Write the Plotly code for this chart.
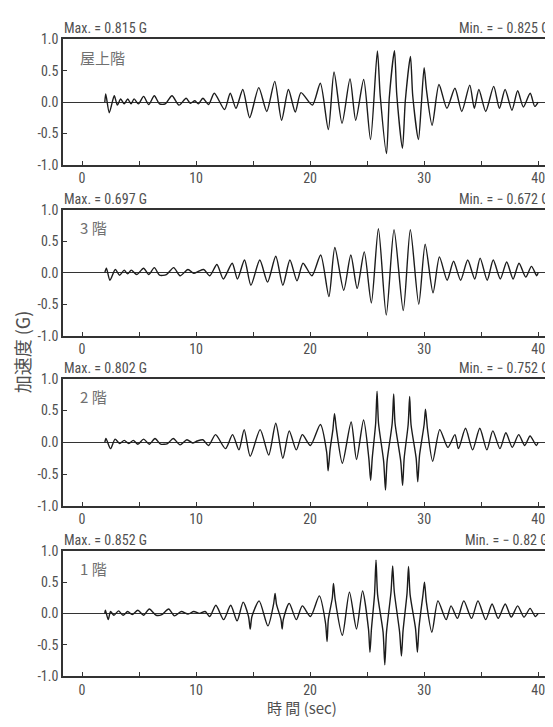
import plotly.graph_objects as go
from plotly.subplots import make_subplots

# ---------------- data ----------------
floor_labels = ["屋上階", "3 階", "2 階", "1 階"]
max_texts = ["Max. = 0.815 G", "Max. = 0.697 G", "Max. = 0.802 G", "Max. = 0.852 G"]
min_texts = ["Min. = − 0.825 G", "Min. = − 0.672 G", "Min. = − 0.752 G", "Min. = − 0.82 G"]

x_tick_vals = [0, 5, 10, 15, 20, 25, 30, 35, 40]
x_tick_text = ["0", "", "10", "", "20", "", "30", "", "40"]
y_tick_vals = [-1.0, -0.5, 0.0, 0.5, 1.0]
y_tick_text = ["-1.0", "-0.5", "0.0", "0.5", "1.0"]

# 屋上階 (roof)
t_roof = [2.0, 2.08, 2.39, 2.83, 3.1, 3.39, 3.7, 4.01, 4.3, 4.57,
          4.95, 5.4, 5.85, 6.34, 6.8, 7.3, 7.89, 8.5, 9.13, 9.5,
          9.9, 10.2, 10.6, 11.1, 11.6, 12.5, 13.0, 13.5, 14.1, 14.7,
          15.5, 16.2, 16.9, 17.5, 18.1, 18.7, 19.2, 20.2, 20.9, 21.6,
          22.1, 22.8, 23.5, 24.0, 24.7, 25.3, 25.9, 26.15, 26.7, 26.95,
          27.4, 27.6, 28.1, 28.35, 28.8, 29.0, 29.5, 29.75, 30.0, 30.2,
          30.7, 31.3, 32.0, 32.7, 33.3, 34.0, 34.4, 34.8, 35.4, 36.1,
          36.6, 37.1, 37.7, 38.2, 38.7, 39.3, 39.7, 40.0]
a_roof = [0.0, 0.13, -0.17, 0.10, -0.05, 0.05, -0.03, 0.05, -0.03, 0.05,
          -0.03, 0.09, -0.04, 0.10, -0.03, -0.03, 0.10, -0.05, 0.06, -0.02,
          0.02, -0.03, 0.06, -0.04, 0.14, -0.12, 0.14, -0.10, 0.20, -0.25,
          0.23, -0.15, 0.33, -0.29, 0.20, -0.16, 0.15, -0.05, 0.30, -0.44,
          0.48, -0.34, 0.37, -0.29, 0.36, -0.60, 0.815, 0.10, -0.825, 0.08,
          0.82, 0.12, -0.74, 0.02, 0.73, 0.10, -0.60, -0.05, 0.55, 0.20,
          -0.37, 0.28, -0.10, 0.22, -0.15, 0.27, -0.10, 0.20, -0.15, 0.25,
          -0.10, 0.20, -0.13, 0.18, -0.08, 0.14, -0.07, 0.0]

# 3階
t_3f = [2.0, 2.14, 2.45, 2.92, 3.3, 3.7, 4.0, 4.32, 4.8, 5.4,
        5.85, 6.34, 6.8, 7.4, 8.04, 8.6, 9.29, 9.8, 10.2, 10.68,
        11.2, 11.83, 12.39, 13.17, 13.63, 14.25, 14.81, 15.59, 16.27, 16.99,
        17.61, 18.23, 18.85, 19.38, 20.16, 20.93, 21.65, 22.17, 22.95, 23.57,
        24.13, 24.75, 25.37, 25.99, 26.68, 27.36, 28.17, 28.79, 29.53, 30.09,
        30.78, 31.34, 32.02, 32.58, 33.2, 33.82, 34.44, 34.91, 35.53, 36.06,
        36.68, 37.24, 37.8, 38.32, 38.91, 39.41, 39.88, 40.0]
a_3f = [0.0, 0.07, -0.12, 0.05, -0.04, 0.04, -0.02, 0.04, -0.03, 0.07,
        -0.03, 0.08, -0.04, -0.03, 0.08, -0.05, 0.05, -0.01, 0.02, 0.05,
        -0.05, 0.13, -0.10, 0.15, -0.10, 0.20, -0.20, 0.20, -0.15, 0.26,
        -0.20, 0.20, -0.13, 0.15, -0.05, 0.28, -0.38, 0.40, -0.28, 0.28,
        -0.25, 0.33, -0.48, 0.697, -0.672, 0.68, -0.60, 0.68, -0.50, 0.45,
        -0.32, 0.25, -0.12, 0.18, -0.12, 0.20, -0.10, 0.23, -0.12, 0.20,
        -0.10, 0.17, -0.10, 0.15, -0.07, 0.10, -0.05, 0.0]

# 2階
t_2f = [2.0, 2.1, 2.5, 2.9, 3.3, 3.7, 4.1, 4.5, 4.9, 5.4,
        5.9, 6.4, 6.9, 7.5, 8.0, 8.6, 9.2, 9.7, 10.1, 10.6,
        11.1, 11.71, 12.58, 13.2, 13.76, 14.22, 14.75, 15.62, 16.37, 16.99,
        17.61, 18.17, 18.79, 19.32, 20.03, 20.9, 21.45, 21.58, 21.75, 22.0,
        22.14, 22.3, 22.83, 23.6, 24.07, 24.69, 25.15, 25.31, 25.45, 25.75,
        25.87, 26.0, 26.45, 26.61, 26.75, 27.2, 27.33, 27.45, 27.95, 28.11,
        28.25, 28.6, 28.73, 28.85, 29.3, 29.44, 29.6, 30.0, 30.12, 30.3,
        30.75, 31.37, 32.08, 32.7, 33.01, 33.63, 34.25, 34.88, 35.5, 36.02,
        36.65, 37.17, 37.73, 38.29, 38.82, 39.29, 39.84, 40.0]
a_2f = [0.0, 0.06, -0.10, 0.05, -0.02, 0.03, -0.02, 0.03, -0.03, 0.05,
        -0.03, 0.06, -0.03, -0.02, 0.06, -0.04, 0.04, -0.01, 0.02, 0.04,
        -0.05, 0.12, -0.10, 0.12, -0.12, 0.20, -0.22, 0.20, -0.20, 0.30,
        -0.25, 0.18, -0.12, 0.12, -0.05, 0.28, -0.15, -0.45, -0.12, 0.20,
        0.45, 0.22, -0.33, 0.32, -0.27, 0.35, -0.25, -0.60, -0.25, 0.30,
        0.802, 0.30, -0.30, -0.752, -0.30, 0.30, 0.76, 0.30, -0.30, -0.68,
        -0.25, 0.28, 0.72, 0.28, -0.25, -0.62, -0.20, 0.28, 0.52, 0.20,
        -0.30, 0.20, -0.08, 0.12, -0.10, 0.22, -0.12, 0.22, -0.12, 0.18,
        -0.10, 0.15, -0.08, 0.12, -0.05, 0.10, -0.05, 0.0]

# 1階
t_1f = [2.0, 2.05, 2.3, 2.5, 2.8, 3.2, 3.6, 4.0, 4.4, 4.9,
        5.4, 5.9, 6.5, 7.0, 7.6, 8.1, 8.7, 9.3, 9.8, 10.3,
        10.8, 11.2, 11.74, 12.42, 13.04, 13.6, 14.13, 14.6, 14.75, 14.9,
        15.53, 16.3, 16.8, 16.93, 17.05, 17.45, 17.55, 17.65, 18.17, 18.79,
        19.32, 20.03, 20.81, 21.35, 21.49, 21.6, 21.95, 22.05, 22.2, 22.83,
        23.45, 24.07, 24.6, 25.12, 25.25, 25.38, 25.65, 25.78, 25.92, 26.4,
        26.55, 26.7, 27.1, 27.24, 27.38, 27.85, 28.01, 28.15, 28.5, 28.63,
        28.77, 29.25, 29.41, 29.55, 29.9, 30.03, 30.2, 30.68, 31.21, 31.93,
        32.36, 32.92, 33.48, 34.16, 34.72, 35.4, 35.96, 36.49, 37.11, 37.64,
        38.2, 38.76, 39.29, 39.75, 40.0]
a_1f = [0.0, 0.05, -0.10, 0.03, -0.03, 0.04, -0.03, 0.03, -0.02, 0.05,
        -0.03, 0.07, -0.03, -0.02, 0.07, -0.04, 0.03, -0.01, 0.03, 0.00,
        0.03, -0.05, 0.13, -0.10, 0.13, -0.12, 0.18, -0.05, -0.25, -0.05,
        0.20, -0.20, 0.15, 0.32, 0.15, -0.10, -0.25, -0.10, 0.16, -0.10,
        0.12, -0.05, 0.28, -0.15, -0.45, -0.10, 0.25, 0.48, 0.22, -0.35,
        0.34, -0.25, 0.36, -0.25, -0.62, -0.25, 0.30, 0.852, 0.30, -0.30,
        -0.82, -0.30, 0.35, 0.76, 0.35, -0.30, -0.68, -0.28, 0.32, 0.75,
        0.30, -0.25, -0.62, -0.22, 0.30, 0.50, 0.18, -0.30, 0.20, -0.10,
        0.12, -0.08, 0.20, -0.08, 0.20, -0.10, 0.15, -0.08, 0.15, -0.06,
        0.12, -0.06, 0.08, -0.05, 0.0]

series_t = [t_roof, t_3f, t_2f, t_1f]
series_a = [a_roof, a_3f, a_2f, a_1f]

# ---------------- layout ----------------
# the page body has an 8 px margin, so the figure is sized to fit the window
OFF = 8
W, H = 553 - OFF, 727 - OFF
def px(xpage):
    return (xpage - OFF) / W
def py(ypage):
    return 1 - (ypage - OFF) / H

panel_px = [(32, 160), (206, 335), (379, 509), (555, 683)]  # top, bottom (page pixels)
left_px = 63
x_range = [-1.667, 41.3]

TXT = "#505050"
LINE = "#1c1c1c"
AX = "#333333"
NUM_FONT = "Liberation Sans Narrow, Roboto Condensed, Liberation Sans, Arial, sans-serif"
CJK_FONT = "Noto Sans CJK JP, sans-serif"

fig = make_subplots(rows=4, cols=1)

for i in range(4):
    r = i + 1
    fig.add_trace(go.Scatter(x=series_t[i], y=series_a[i], mode="lines",
                             line=dict(color=LINE, width=1.4, shape="spline", smoothing=0.7),
                             showlegend=False, hoverinfo="skip"), row=r, col=1)
    top, bot = panel_px[i]
    fig.update_xaxes(row=r, col=1, domain=[px(left_px), 1.0], range=x_range,
                     showgrid=False, zeroline=False, showline=True, mirror=True,
                     linecolor=AX, linewidth=1.6, ticks="inside", ticklen=4,
                     tickwidth=1.4, tickcolor=AX,
                     tickvals=x_tick_vals, ticktext=x_tick_text,
                     tickfont=dict(family=NUM_FONT, size=14, color=TXT))
    fig.update_yaxes(row=r, col=1, domain=[py(bot), py(top)], range=[-1, 1],
                     showgrid=False, zeroline=True, zerolinecolor=AX, zerolinewidth=1.2,
                     showline=True, linecolor=AX, linewidth=1.6,
                     ticks="inside", ticklen=4, tickwidth=1.4, tickcolor=AX,
                     tickvals=y_tick_vals, ticktext=y_tick_text,
                     tickfont=dict(family=NUM_FONT, size=14, color=TXT))
    # Max / Min annotations
    fig.add_annotation(xref="paper", yref="paper", x=px(left_px - 1), y=py(top - 1),
                       xanchor="left", yanchor="bottom", showarrow=False,
                       text=max_texts[i], font=dict(family=NUM_FONT, size=14, color=TXT))
    fig.add_annotation(xref="paper", yref="paper", x=px(551), y=py(top - 1),
                       xanchor="right", yanchor="bottom", showarrow=False,
                       text=min_texts[i], font=dict(family=NUM_FONT, size=14, color=TXT))
    # floor label
    fig.add_annotation(xref="paper", yref="paper", x=px(78), y=py(top + 18),
                       xanchor="left", yanchor="middle", showarrow=False,
                       text=floor_labels[i], font=dict(family=CJK_FONT, size=15, color="#707070"))

# axis titles
fig.add_annotation(xref="paper", yref="paper", x=px(302), y=py(727),
                   xanchor="center", yanchor="bottom", showarrow=False, borderpad=0,
                   text="時 間 (sec)", font=dict(family=CJK_FONT, size=15, color=TXT))
fig.add_annotation(xref="paper", yref="paper", x=px(22), y=py(352),
                   xanchor="center", yanchor="middle", showarrow=False, textangle=-90,
                   text="加速度 (G)", font=dict(family=CJK_FONT, size=18, color=TXT))

fig.update_layout(width=W, height=H, margin=dict(l=0, r=0, t=0, b=0),
                  paper_bgcolor="white", plot_bgcolor="white")

fig.write_html("out.html")
